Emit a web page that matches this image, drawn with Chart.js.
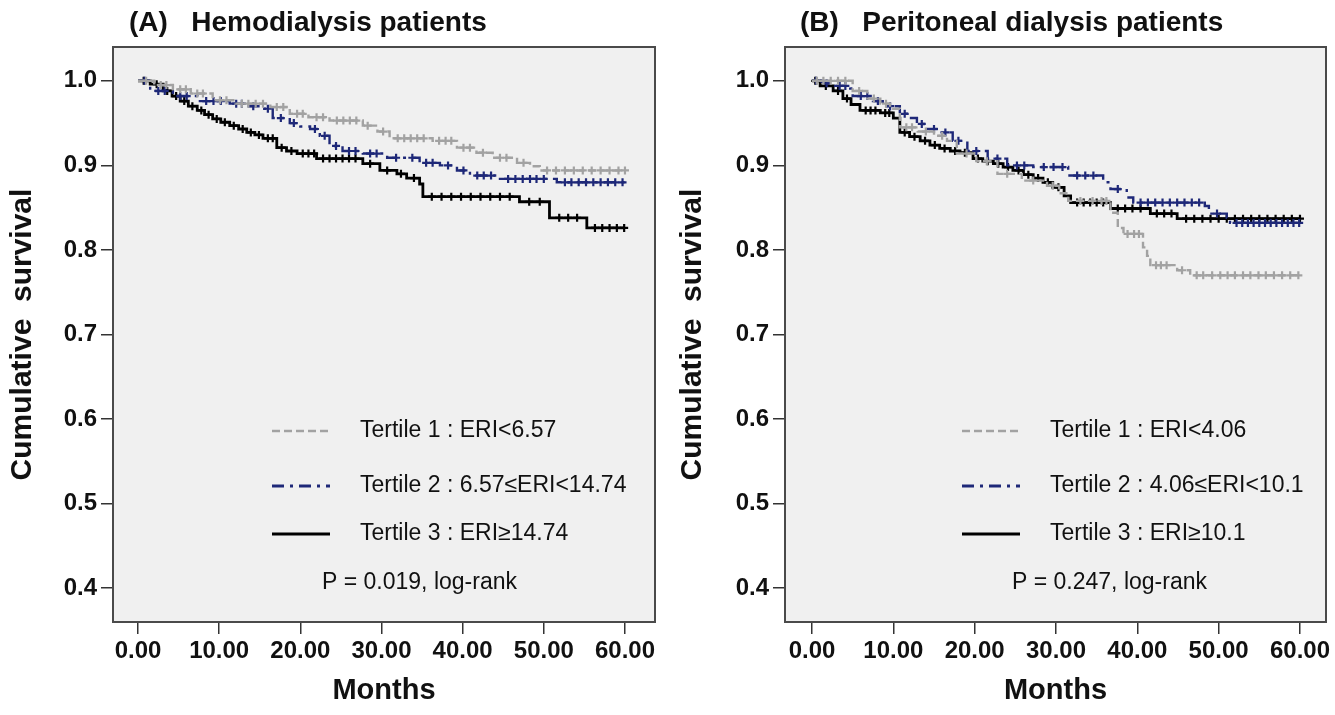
<!DOCTYPE html>
<html>
<head>
<meta charset="utf-8">
<title>Cumulative survival by ERI tertile</title>
<script src="https://cdn.jsdelivr.net/npm/chart.js@4.4.0/dist/chart.umd.min.js"></script>
<style>
  body { margin: 0; background: #fff; }
  .panel { position: absolute; top: 0; }
  #panelA { left: 0; }
  #panelB { left: 670px; }
</style>
</head>
<body>
<div class="panel" id="panelA"><canvas id="chartA" width="670" height="715"></canvas></div>
<div class="panel" id="panelB"><canvas id="chartB" width="665" height="715"></canvas></div>
<script>
'use strict';

// =========================
// ======= DATA ============
// =========================

var monthTicks = [0, 10, 20, 30, 40, 50, 60];
var survivalTicks = [0.4, 0.5, 0.6, 0.7, 0.8, 0.9, 1.0];

// (A) hemodialysis - step times (months) and survival after each step
var hdT1Times = [0, 2.0, 4.3, 6.5, 9.2, 12.0, 16.3, 18.7, 21.0, 23.6, 27.7, 29.5, 31.0, 36.3, 39.3, 41.7, 43.7, 46.7, 48.3, 49.5, 60];
var hdT1Surv = [1, 0.995, 0.99, 0.985, 0.977, 0.973, 0.969, 0.961, 0.957, 0.953, 0.947, 0.94, 0.932, 0.929, 0.921, 0.915, 0.909, 0.903, 0.899, 0.894, 0.894];
var hdT1Cens = [1.0, 2.8, 3.5, 5.2, 5.9, 7.3, 8.0, 10.1, 10.9, 12.8, 13.6, 14.5, 15.4, 17.1, 17.9, 19.6, 20.3, 22.0, 22.8, 24.5, 25.3, 26.1, 26.9, 28.3, 30.2, 32.0, 32.8, 33.6, 34.4, 35.2, 37.1, 37.9, 38.6, 40.1, 40.9, 42.5, 44.6, 45.4, 47.5, 50.4, 51.5, 52.6, 53.7, 54.8, 55.9, 57.0, 58.1, 59.2, 60.0];

var hdT2Times = [0, 1.5, 4.3, 7.3, 11.3, 13.5, 15.4, 16.6, 18.7, 20.0, 21.2, 22.4, 23.6, 25.2, 27.7, 30.7, 34.7, 37.2, 39.3, 40.9, 44.6, 51.6, 60];
var hdT2Surv = [1, 0.988, 0.982, 0.976, 0.973, 0.97, 0.967, 0.956, 0.95, 0.946, 0.943, 0.935, 0.923, 0.917, 0.914, 0.909, 0.903, 0.9, 0.894, 0.888, 0.884, 0.88, 0.88];
var hdT2Cens = [0.8, 2.5, 3.3, 5.2, 6.0, 8.4, 9.3, 10.2, 12.1, 12.8, 14.2, 16.0, 17.6, 19.2, 21.8, 23.0, 24.4, 26.0, 26.8, 28.6, 29.4, 31.8, 33.8, 35.5, 36.3, 38.2, 40.1, 41.8, 42.6, 43.5, 45.6, 46.5, 47.4, 48.3, 49.1, 50.0, 52.6, 53.4, 54.3, 55.2, 56.1, 57.0, 57.9, 58.8, 59.7];

var hdT3Times = [0, 1.5, 3.1, 4.2, 5.2, 6.2, 7.3, 8.2, 9.2, 10.2, 11.3, 12.4, 13.4, 14.4, 15.4, 17.1, 18.3, 19.6, 22.0, 27.7, 29.8, 31.9, 33.1, 34.7, 35.1, 47.0, 50.7, 55.3, 60];
var hdT3Surv = [1, 0.996, 0.988, 0.982, 0.976, 0.97, 0.965, 0.96, 0.955, 0.951, 0.947, 0.943, 0.939, 0.936, 0.932, 0.921, 0.917, 0.914, 0.908, 0.902, 0.894, 0.89, 0.885, 0.878, 0.863, 0.857, 0.838, 0.826, 0.826];
var hdT3Cens = [0.7, 2.3, 3.6, 4.7, 5.7, 6.7, 7.8, 8.7, 9.7, 10.7, 11.8, 12.9, 13.9, 14.9, 16.0, 16.6, 17.7, 18.9, 20.3, 21.0, 21.7, 22.8, 23.6, 24.4, 25.2, 26.0, 26.8, 28.6, 30.7, 32.4, 34.0, 36.2, 37.4, 38.6, 39.8, 41.0, 42.2, 43.4, 44.6, 45.8, 48.2, 49.5, 51.9, 53.0, 54.1, 56.3, 57.2, 58.1, 59.0, 59.9];

// (B) peritoneal dialysis
var pdT1Times = [0, 5.0, 6.8, 8.4, 9.6, 10.8, 13.0, 15.0, 16.6, 17.8, 20.2, 22.8, 25.8, 28.9, 30.4, 31.5, 36.7, 37.6, 38.3, 40.7, 41.2, 41.6, 44.9, 46.5, 60];
var pdT1Surv = [1, 0.988, 0.979, 0.973, 0.967, 0.945, 0.94, 0.935, 0.929, 0.914, 0.905, 0.89, 0.882, 0.876, 0.867, 0.858, 0.844, 0.826, 0.819, 0.803, 0.793, 0.782, 0.776, 0.77, 0.77];
var pdT1Cens = [0.6, 1.4, 2.3, 3.2, 4.1, 5.8, 7.6, 9.1, 11.6, 12.3, 14.0, 16.0, 19.0, 21.5, 24.0, 27.2, 29.6, 33.0, 34.5, 35.6, 36.2, 38.8, 39.6, 40.2, 42.3, 42.9, 43.6, 45.5, 47.3, 48.1, 49.2, 50.2, 51.1, 52.0, 53.0, 53.9, 54.9, 55.8, 56.8, 57.8, 58.8, 59.8];

var pdT2Times = [0, 1.2, 2.6, 4.7, 5.0, 7.5, 8.7, 10.8, 12.0, 12.9, 14.1, 15.7, 17.3, 19.1, 21.6, 24.0, 27.2, 31.5, 35.8, 36.7, 38.7, 39.5, 48.3, 48.8, 51.0, 51.4, 60];
var pdT2Surv = [1, 0.997, 0.994, 0.991, 0.982, 0.976, 0.97, 0.961, 0.956, 0.949, 0.943, 0.939, 0.929, 0.917, 0.908, 0.9, 0.898, 0.888, 0.88, 0.872, 0.862, 0.856, 0.852, 0.843, 0.838, 0.832, 0.832];
var pdT2Cens = [0.5, 1.8, 3.4, 4.1, 6.0, 6.8, 8.1, 9.6, 11.4, 13.5, 15.0, 16.4, 18.0, 20.2, 22.8, 25.2, 26.1, 28.5, 29.7, 30.8, 32.6, 33.6, 34.6, 37.6, 40.4, 41.3, 42.2, 43.1, 44.0, 44.9, 45.8, 46.7, 47.6, 49.8, 52.2, 52.9, 53.6, 54.3, 55.0, 55.7, 56.4, 57.1, 57.8, 58.5, 59.2, 59.9];

var pdT3Times = [0, 1.0, 2.6, 3.8, 4.8, 5.9, 8.4, 10.0, 10.8, 12.0, 13.3, 14.5, 15.7, 17.0, 18.2, 19.8, 21.0, 22.3, 23.5, 24.7, 26.0, 27.2, 28.4, 29.6, 31.0, 31.8, 36.7, 41.6, 44.9, 60];
var pdT3Surv = [1, 0.994, 0.988, 0.979, 0.972, 0.965, 0.962, 0.956, 0.939, 0.934, 0.929, 0.924, 0.92, 0.917, 0.915, 0.908, 0.905, 0.902, 0.898, 0.894, 0.889, 0.885, 0.88, 0.874, 0.864, 0.856, 0.849, 0.843, 0.837, 0.837];
var pdT3Cens = [0.4, 1.7, 3.2, 4.3, 6.6, 7.2, 7.8, 9.0, 9.5, 11.4, 12.6, 13.9, 15.1, 16.3, 17.6, 18.8, 20.4, 21.6, 22.9, 24.1, 25.4, 26.6, 27.8, 29.0, 30.3, 32.6, 33.4, 34.2, 35.0, 35.8, 37.6, 38.5, 39.4, 40.4, 42.4, 43.3, 44.2, 46.0, 47.0, 48.0, 49.0, 50.0, 51.0, 52.0, 53.0, 54.0, 55.0, 56.0, 57.0, 58.0, 59.0, 60.0];

var hdLabels = ['Tertile 1 : ERI<6.57', 'Tertile 2 : 6.57≤ERI<14.74', 'Tertile 3 : ERI≥14.74'];
var pdLabels = ['Tertile 1 : ERI<4.06', 'Tertile 2 : 4.06≤ERI<10.1', 'Tertile 3 : ERI≥10.1'];

// =========================
// ======= STYLE ===========
// =========================

var FONT = "'Liberation Sans', Arial, sans-serif";
var INK = '#111111';
var tertileStyles = [
    { color: '#a2a2a2', dash: [8, 4], width: 2.4, legendWidth: 2.5 },
    { color: '#1e2878', dash: [12, 6, 3, 6], width: 2.4, legendWidth: 3 },
    { color: '#000000', dash: [], width: 2.8, legendWidth: 3 }
];

function stepPoints(times, surv) {
    var pts = [];
    for (var i = 0; i < times.length; i++) {
        pts.push({ x: times[i], y: surv[i] });
    }
    return pts;
}

// censored marks sit on the curve, so look up the step value at that time
function censorPoints(times, surv, cens) {
    var pts = [];
    for (var i = 0; i < cens.length; i++) {
        var j = 0;
        while (j + 1 < times.length && times[j + 1] <= cens[i]) j++;
        pts.push({ x: cens[i], y: surv[j] });
    }
    return pts;
}

function makeDatasets(groups) {
    var sets = [];
    for (var i = 0; i < groups.length; i++) {
        var g = groups[i];
        var st = tertileStyles[i];
        sets.push({
            data: stepPoints(g.times, g.surv),
            stepped: 'before',
            borderColor: st.color,
            borderWidth: st.width,
            borderDash: st.dash,
            pointRadius: 0,
            fill: false
        });
        sets.push({
            data: censorPoints(g.times, g.surv, g.cens),
            showLine: false,
            pointStyle: 'cross',
            pointRadius: 4,
            pointBorderWidth: 2.2,
            borderColor: st.color,
            backgroundColor: st.color
        });
    }
    return sets;
}

// grey plot box, frame, panel title, legend and p-value
function makeFramePlugin(cfg) {
    return {
        id: 'survivalFrame',
        beforeDraw: function (chart) {
            var a = chart.chartArea, ctx = chart.ctx;
            ctx.save();
            ctx.fillStyle = '#f0f0f0';
            ctx.fillRect(a.left, a.top, a.right - a.left, a.bottom - a.top);
            ctx.restore();
        },
        afterDraw: function (chart) {
            var a = chart.chartArea, ctx = chart.ctx;
            ctx.save();
            ctx.strokeStyle = '#4a4a4a';
            ctx.lineWidth = 2;
            ctx.strokeRect(a.left, a.top, a.right - a.left, a.bottom - a.top);

            ctx.fillStyle = INK;
            ctx.textBaseline = 'alphabetic';
            ctx.font = 'bold 28px ' + FONT;
            ctx.fillText(cfg.title, cfg.titleX, 31);

            ctx.font = '23px ' + FONT;
            ctx.textBaseline = 'middle';
            for (var i = 0; i < cfg.labels.length; i++) {
                var st = tertileStyles[i];
                var y = cfg.legendY[i];
                ctx.beginPath();
                ctx.setLineDash(st.dash);
                ctx.strokeStyle = st.color;
                ctx.lineWidth = st.legendWidth;
                ctx.moveTo(cfg.lineX[0], y);
                ctx.lineTo(cfg.lineX[1], y);
                ctx.stroke();
                ctx.setLineDash([]);
                ctx.fillStyle = INK;
                ctx.fillText(cfg.labels[i], cfg.textX, y);
            }
            ctx.fillText(cfg.pText, cfg.pX, cfg.pY);
            ctx.restore();
        }
    };
}

function makeChart(id, cfg) {
    return new Chart(document.getElementById(id), {
        type: 'line',
        data: { datasets: makeDatasets(cfg.groups) },
        options: {
            responsive: false,
            animation: false,
            events: [],
            layout: { padding: { top: 47, right: cfg.padRight, left: 0, bottom: 0 } },
            plugins: { legend: { display: false }, tooltip: { enabled: false } },
            scales: {
                x: {
                    type: 'linear',
                    min: cfg.xMin,
                    max: cfg.xMax,
                    afterBuildTicks: function (s) {
                        s.ticks = monthTicks.map(function (v) { return { value: v }; });
                    },
                    afterFit: function (s) { s.height = 93; },
                    grid: { drawOnChartArea: false, drawTicks: true, tickLength: 12, color: '#333', lineWidth: 1.5 },
                    border: { display: false },
                    ticks: {
                        padding: 3, color: INK, maxRotation: 0, autoSkip: false,
                        font: { family: FONT, size: 24, weight: 'bold' },
                        callback: function (v) { return v.toFixed(2); }
                    },
                    title: {
                        display: true, text: 'Months', color: INK,
                        font: { family: FONT, size: 29, weight: 'bold' },
                        padding: { top: 0, bottom: 7 }
                    }
                },
                y: {
                    type: 'linear',
                    min: 0.36,
                    max: 1.04,
                    afterBuildTicks: function (s) {
                        s.ticks = survivalTicks.map(function (v) { return { value: v }; });
                    },
                    afterFit: function (s) { s.width = cfg.yWidth; },
                    grid: { drawOnChartArea: false, drawTicks: true, tickLength: 12, color: '#333', lineWidth: 1.5 },
                    border: { display: false },
                    ticks: {
                        padding: 4, color: INK,
                        font: { family: FONT, size: 24, weight: 'bold' },
                        callback: function (v) { return v.toFixed(1); }
                    },
                    title: {
                        display: true, text: 'Cumulative  survival', color: INK,
                        font: { family: FONT, size: 30, weight: 'bold' },
                        padding: { top: 5, bottom: 0 }
                    }
                }
            }
        },
        plugins: [makeFramePlugin(cfg)]
    });
}

makeChart('chartA', {
    groups: [
        { times: hdT1Times, surv: hdT1Surv, cens: hdT1Cens },
        { times: hdT2Times, surv: hdT2Surv, cens: hdT2Cens },
        { times: hdT3Times, surv: hdT3Surv, cens: hdT3Cens }
    ],
    xMin: -3.08, xMax: 63.7, yWidth: 113, padRight: 15,
    title: '(A)   Hemodialysis patients', titleX: 129,
    labels: hdLabels, legendY: [431, 486, 534], lineX: [272, 330], textX: 360,
    pText: 'P = 0.019, log-rank', pX: 322, pY: 583
});

makeChart('chartB', {
    groups: [
        { times: pdT1Times, surv: pdT1Surv, cens: pdT1Cens },
        { times: pdT2Times, surv: pdT2Surv, cens: pdT2Cens },
        { times: pdT3Times, surv: pdT3Surv, cens: pdT3Cens }
    ],
    xMin: -3.32, xMax: 63.2, yWidth: 115, padRight: 9,
    title: '(B)   Peritoneal dialysis patients', titleX: 130,
    labels: pdLabels, legendY: [431, 486, 534], lineX: [292, 350], textX: 380,
    pText: 'P = 0.247, log-rank', pX: 342, pY: 583
});
</script>
</body>
</html>
